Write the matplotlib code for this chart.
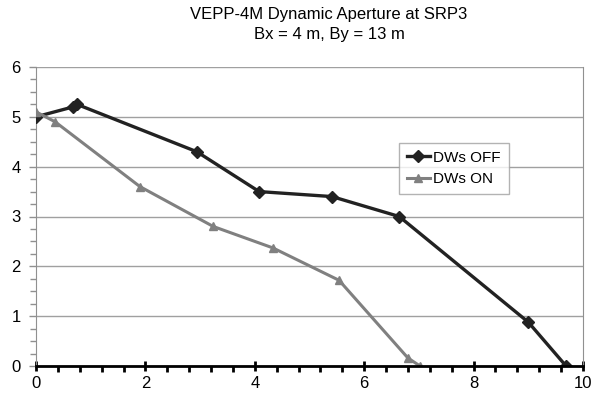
import matplotlib
matplotlib.use("Agg")
import matplotlib.pyplot as plt
from matplotlib.ticker import MultipleLocator

plt.rcParams['font.family'] = ['Liberation Sans', 'DejaVu Sans']

title_lines = ["VEPP-4M Dynamic Aperture at SRP3", "Bx = 4 m, By = 13 m"]

off_x = [0.0, 0.68, 0.75, 2.94, 4.08, 5.41, 6.64, 9.0, 9.69]
off_y = [5.0, 5.2, 5.25, 4.3, 3.5, 3.4, 3.0, 0.88, 0.0]
on_x = [0.0, 0.35, 1.9, 3.24, 4.33, 5.54, 6.8, 7.02]
on_y = [5.1, 4.9, 3.6, 2.8, 2.37, 1.72, 0.16, 0.0]
labels = ["DWs OFF", "DWs ON"]

fig = plt.figure(figsize=(6.01, 4.03), dpi=100)
ax = fig.add_axes([36/601, 1-366/403, (583-36)/601, (366-67)/403])

ax.plot(off_x, off_y, color='#222222', lw=2.4, marker='D', ms=6.5, label=labels[0], zorder=3)
ax.plot(on_x, on_y, color='#808080', lw=2.2, marker='^', ms=5.5, label=labels[1], zorder=3)

ax.set_xlim(0, 10)
ax.set_ylim(0, 6)
ax.xaxis.set_major_locator(MultipleLocator(2))
ax.xaxis.set_minor_locator(MultipleLocator(0.4))
ax.yaxis.set_major_locator(MultipleLocator(1))
ax.yaxis.set_minor_locator(MultipleLocator(0.25))
ax.grid(axis='y', which='major', color='#a0a0a0', lw=1)
ax.set_axisbelow(True)

ax.spines['top'].set_visible(False)
ax.spines['right'].set_color('#909090')
ax.spines['left'].set_color('#909090')
ax.spines['bottom'].set_color('black')
ax.spines['bottom'].set_linewidth(2)
ax.spines['bottom'].set_zorder(4)

ax.tick_params(axis='x', which='major', direction='inout', length=7, width=2, colors='black', labelsize=12, pad=4)
ax.tick_params(axis='x', which='minor', direction='out', length=4, width=2, colors='black')
ax.tick_params(axis='y', which='major', direction='out', length=5, width=1, color='#909090', labelcolor='black', labelsize=12, pad=6)
ax.tick_params(axis='y', which='minor', direction='out', length=4, width=1, color='#909090')

fig.text(329/601, 1-14/403, title_lines[0], ha='center', va='center', fontsize=12)
fig.text(329/601, 1-34/403, title_lines[1], ha='center', va='center', fontsize=12)

leg = ax.legend(loc='upper left', bbox_to_anchor=((399-36)/547, (366-143)/299), frameon=True,
                fancybox=False, edgecolor='#a0a0a0', fontsize=11, handlelength=1.5,
                handletextpad=0.25, borderpad=0.5, labelspacing=0.5, borderaxespad=0)
leg.get_frame().set_linewidth(1)

fig.savefig("out.png", dpi=100)
